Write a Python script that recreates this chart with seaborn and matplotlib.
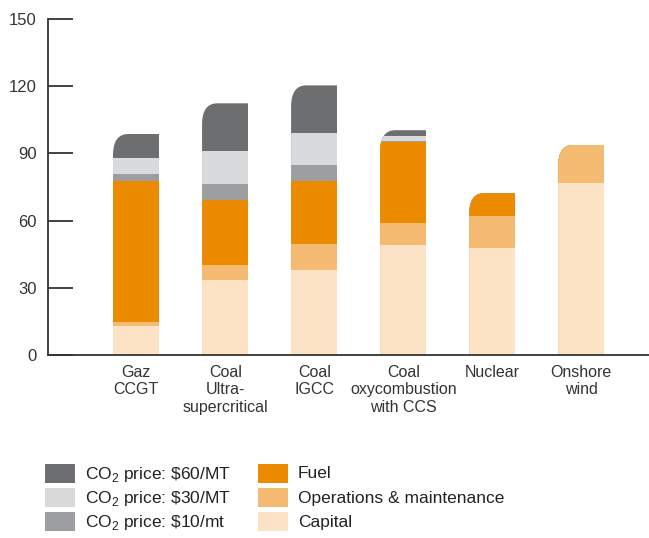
import numpy as np
import pandas as pd
import matplotlib
matplotlib.use("Agg")
import matplotlib.pyplot as plt
from matplotlib.path import Path
from matplotlib.patches import PathPatch, Rectangle
import seaborn as sns

# data
categories = ["Gaz\nCCGT", "Coal\nUltra-\nsupercritical", "Coal\nIGCC",
              "Coal\noxycombustion\nwith CCS", "Nuclear", "Onshore\nwind"]
capital = [13.0, 33.3, 37.8, 49.3, 47.6, 76.9]
om = [1.8, 7.1, 12.0, 9.8, 14.6, 16.9]
fuel = [63.0, 29.0, 28.0, 36.0, 10.1, 0.0]
co2_10 = [3.1, 7.0, 7.1, 0.7, 0.0, 0.0]
co2_30 = [7.2, 14.7, 14.2, 2.0, 0.0, 0.0]
co2_60 = [10.6, 21.3, 21.3, 2.6, 0.0, 0.0]

layer_names = ["Capital", "Operations & maintenance", "Fuel",
               r"CO$_2$ price: \$10/mt", r"CO$_2$ price: \$30/MT", r"CO$_2$ price: \$60/MT"]
layer_values = [capital, om, fuel, co2_10, co2_30, co2_60]
layer_colors = ["#fce3c6", "#f6bb73", "#ed8b00", "#9d9ea0", "#d9dadc", "#6d6e70"]

sns.set_theme(style="white")
plt.rcParams["font.family"] = ["Liberation Sans", "DejaVu Sans"]
plt.rcParams["mathtext.fontset"] = "custom"
plt.rcParams["mathtext.rm"] = "Liberation Sans"

df = pd.DataFrame({"category": categories})
cum = np.cumsum(np.array(layer_values), axis=0)

W, H = 649, 538
fig = plt.figure(figsize=(W / 100, H / 100), dpi=100)
ax = fig.add_axes([0.074, 0.340, 0.926, 0.6245])

# stacked bars: draw cumulative totals from the top layer down
for i in range(len(layer_values) - 1, -1, -1):
    df["value"] = cum[i]
    sns.barplot(data=df, x="category", y="value", color=layer_colors[i],
                saturation=1, width=0.52, linewidth=0, ax=ax)

# round the top-left corner of each stack
totals = cum[-1]
rx, ry = 0.17, 9.5
w = 0.52
for j, top in enumerate(totals):
    x0, x1 = j - w / 2, j + w / 2
    verts = [(x0, 0), (x1, 0), (x1, top), (x0 + rx, top),
             (x0, top), (x0, top - ry), (x0, 0)]
    codes = [Path.MOVETO, Path.LINETO, Path.LINETO, Path.LINETO,
             Path.CURVE3, Path.CURVE3, Path.CLOSEPOLY]
    clip = PathPatch(Path(verts, codes), transform=ax.transData,
                     facecolor="none", edgecolor="none")
    ax.add_patch(clip)
    for cont in ax.containers:
        cont.patches[j].set_clip_path(clip)

ax.set_ylim(0, 150)
ax.set_xlim(-0.99, 5.76)
ax.set_yticks([0, 30, 60, 90, 120, 150])
ax.set_xlabel("")
ax.set_ylabel("")
for s in ["top", "right"]:
    ax.spines[s].set_visible(False)
for s in ["left", "bottom"]:
    ax.spines[s].set_color("#333333")
    ax.spines[s].set_linewidth(1.3)
ax.tick_params(axis="y", direction="in", length=18, width=1.3, color="#333333",
               labelsize=12, labelcolor="#333333", pad=8, left=True)
ax.tick_params(axis="x", length=0, labelsize=11.5, labelcolor="#333333", pad=7)
ax.set_xticks(range(len(categories)))
ax.set_xticklabels(categories, linespacing=1.2)

# legend, two columns of swatches placed in pixel positions
rows = [464, 488, 512]
columns = [(45, [5, 4, 3]), (258, [2, 1, 0])]
for x, keys in columns:
    for y, k in zip(rows, keys):
        fig.add_artist(Rectangle((x / W, 1 - (y + 19) / H), 30 / W, 19 / H,
                                 transform=fig.transFigure,
                                 facecolor=layer_colors[k], edgecolor="none"))
        fig.text((x + 40) / W, 1 - (y + 10) / H, layer_names[k], fontsize=12.5,
                 color="#222222", va="center", ha="left")

fig.savefig("out.png", dpi=100)
